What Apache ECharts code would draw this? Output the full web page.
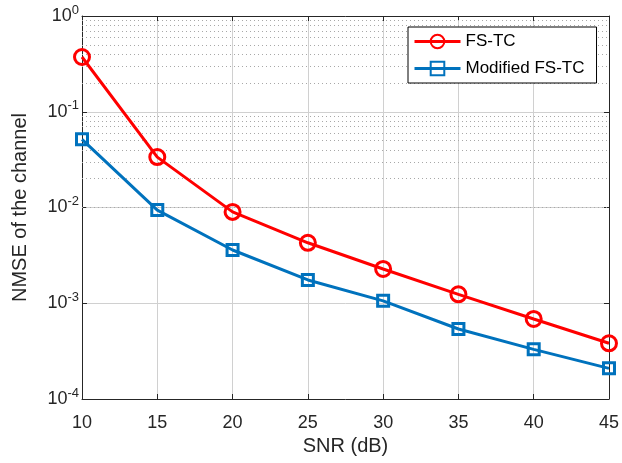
<!DOCTYPE html>
<html>
<head>
<meta charset="utf-8">
<script src="https://cdn.jsdelivr.net/npm/echarts@6/dist/echarts.min.js"></script>
<style>
  html, body { margin: 0; padding: 0; background: #fff; }
  #chart { width: 622px; height: 463px; }
</style>
</head>
<body>
<div id="chart"></div>
<script>
// SNR values (dB)
var snr = [10, 15, 20, 25, 30, 35, 40, 45];
// NMSE
var fsTc = [0.373, 0.0336, 0.0090, 0.00428, 0.00228, 0.00124, 0.000685, 0.000382];
var modFsTc = [0.0515, 0.0094, 0.0036, 0.00175, 0.00106, 0.000538, 0.00033, 0.000209];
// minor grid positions on the log axis
var minorVals = [];
[1e-4, 1e-3, 1e-2, 1e-1].forEach(function (d) {
  for (var k = 2; k <= 9; k++) minorVals.push(+(d * k).toPrecision(3));
});

var font = 'Liberation Sans, Arial, sans-serif';
var txt = '#262626';

var chartDom = document.getElementById('chart');
var myChart = echarts.init(chartDom);

function pairs(xs, ys) {
  return xs.map(function (x, i) { return [x, ys[i]]; });
}

var option = {
  animation: false,
  textStyle: { fontFamily: font },
  grid: { left: 82, right: 12, top: 16, bottom: 64, containLabel: false },
  legend: {
    orient: 'vertical',
    left: 408,
    top: 27,
    padding: [6, 12, 6, 5],
    itemGap: 10,
    itemWidth: 46,
    itemHeight: 17,
    backgroundColor: '#fff',
    borderColor: '#000',
    borderWidth: 1,
    borderRadius: 0,
    lineStyle: { width: 3 },
    textStyle: { fontSize: 17, color: '#000', fontFamily: font },
    data: ['FS-TC', 'Modified FS-TC']
  },
  xAxis: [{
    type: 'value',
    min: 10, max: 45, interval: 5,
    name: 'SNR (dB)',
    nameLocation: 'middle',
    nameGap: 29,
    nameTextStyle: { fontSize: 20, color: txt, fontFamily: font },
    axisLine: { onZero: false, lineStyle: { color: '#262626', width: 1 } },
    axisTick: { inside: true, length: 5, lineStyle: { color: '#262626' } },
    axisLabel: { fontSize: 18, color: txt, margin: 15, fontFamily: font },
    splitLine: { show: true, lineStyle: { color: '#d0d0d0', width: 1 } }
  }, {
    type: 'value',
    position: 'top',
    min: 10, max: 45, interval: 5,
    axisLine: { onZero: false, lineStyle: { color: '#262626', width: 1 } },
    axisTick: { inside: true, length: 5, lineStyle: { color: '#262626' } },
    axisLabel: { show: false },
    splitLine: { show: false }
  }],
  yAxis: [{
    type: 'log',
    logBase: 10,
    min: 1e-4, max: 1,
    name: 'NMSE of the channel',
    nameLocation: 'middle',
    nameGap: 52,
    nameTextStyle: { fontSize: 20, color: txt, fontFamily: font },
    axisLine: { onZero: false, lineStyle: { color: '#262626', width: 1 } },
    axisTick: { inside: true, length: 5, lineStyle: { color: '#262626' } },
    axisLabel: {
      margin: 3,
      formatter: function (v) {
        var e = Math.round(Math.log10(v));
        return '{b|10}{s|' + e + '}';
      },
      rich: {
        b: { fontSize: 18, color: txt, fontFamily: font },
        s: { fontSize: 13, color: txt, fontFamily: font, padding: [0, 0, 12, 0] }
      }
    },
    splitLine: { show: true, lineStyle: { color: '#d0d0d0', width: 1 } }
  }, {
    type: 'log',
    logBase: 10,
    min: 1e-4, max: 1,
    position: 'right',
    axisLine: { onZero: false, lineStyle: { color: '#262626', width: 1 } },
    axisTick: { inside: true, length: 5, lineStyle: { color: '#262626' } },
    axisLabel: { show: false },
    splitLine: { show: false }
  }],
  series: [{
    name: 'FS-TC',
    type: 'line',
    data: pairs(snr, fsTc),
    symbol: 'circle',
    symbolSize: 15,
    z: 3,
    lineStyle: { color: '#ff0000', width: 3 },
    itemStyle: { color: 'rgba(255,255,255,0)', borderColor: '#ff0000', borderWidth: 3 },
    markLine: {
      silent: true,
      symbol: 'none',
      label: { show: false },
      lineStyle: { color: '#a8a8a8', type: [1, 3], width: 1 },
      data: minorVals.map(function (v) { return { yAxis: v }; }),
      z: 1
    }
  }, {
    name: 'Modified FS-TC',
    type: 'line',
    data: pairs(snr, modFsTc),
    symbol: 'rect',
    symbolSize: 11,
    z: 3,
    lineStyle: { color: '#0072bd', width: 3 },
    itemStyle: { color: 'rgba(255,255,255,0)', borderColor: '#0072bd', borderWidth: 3 }
  }]
};

myChart.setOption(option);
</script>
</body>
</html>
